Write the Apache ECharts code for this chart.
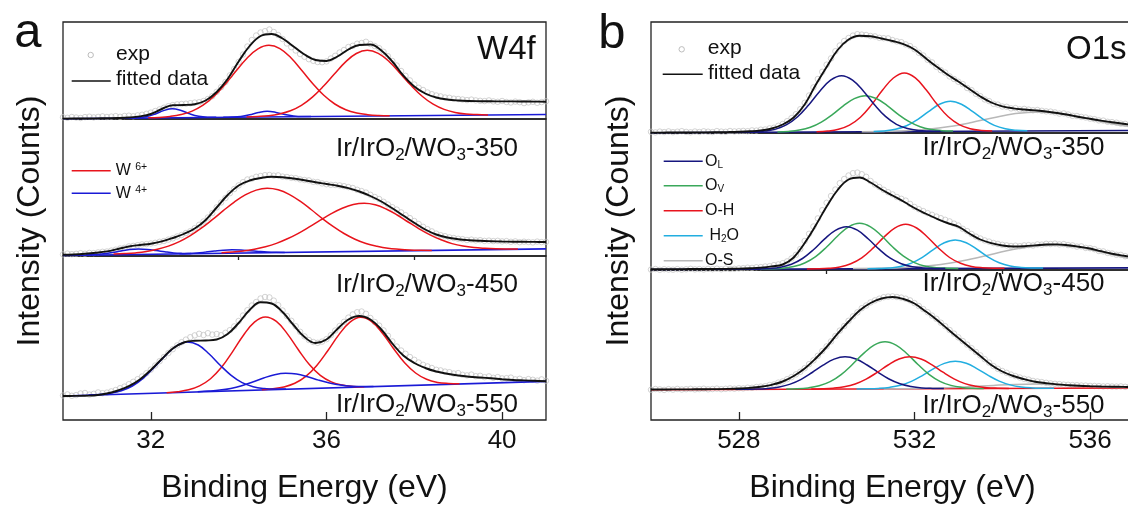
<!DOCTYPE html>
<html>
<head>
<meta charset="utf-8">
<script src="https://cdn.jsdelivr.net/npm/echarts@6/dist/echarts.min.js"></script>
<style>
  html, body { margin: 0; padding: 0; background: #ffffff; }
  #chart { width: 1128px; height: 507px; }
</style>
</head>
<body>
<div id="chart"></div>
<script>
// ---------------- W4f (panel a) ----------------
// experimental points: 30.0 .. 41.0 eV, 0.1 eV step
const wExpStart = 30.0, wExpStep = 0.1;
// fitted envelopes: 30.0 .. 41.0 eV, 0.25 eV step
const wFitStart = 30.0, wFitStep = 0.25;

const w350Exp = [
  1.8, 1.2, 2.0, 1.5, 1.0, 1.9, 2.3, 1.6, 2.1, 2.6, 2.0,
  2.4, 2.9, 2.2, 3.0, 3.3, 2.7, 3.6, 4.2, 5.2, 6.4,
  8.0, 9.6, 11.3, 12.8, 13.9, 14.6, 15.0, 15.3, 15.8, 16.4,
  16.8, 18.0, 20.0, 22.8, 27.2, 31.8, 37.0, 43.6, 50.0, 57.0,
  64.5, 72.5, 79.0, 83.5, 86.5, 87.8, 89.5, 87.0, 84.0, 80.0,
  75.5, 71.8, 68.5, 65.0, 62.2, 59.8, 58.2, 57.0, 56.8, 57.6,
  60.5, 63.2, 66.5, 69.0, 72.0, 73.2, 75.3, 76.0, 77.2, 75.0,
  73.0, 70.8, 67.2, 62.8, 58.0, 53.5, 48.0, 43.2, 38.6, 34.5,
  31.2, 29.0, 26.5, 24.8, 23.5, 22.6, 21.5, 21.2, 20.3, 20.0,
  19.5, 18.9, 19.4, 18.6, 18.2, 17.9, 18.6, 17.6, 17.2, 18.0,
  17.0, 16.5, 17.4, 16.8, 15.9, 16.6, 17.2, 16.2, 16.9, 17.8
];
const w350Fit = [
  0.4, 0.5, 0.5, 0.6, 0.8, 1.0, 1.5, 2.6, 5.0, 10.0, 13.8, 14.0, 14.8, 18.5, 27.0,
  40.0, 57.5, 73.0, 83.0, 85.0, 80.5, 72.5, 64.5, 59.0, 58.0, 62.5, 69.5, 74.0, 74.5,
  68.5, 57.5, 43.5, 32.5, 25.5, 21.5, 19.5, 18.5, 18.0, 17.8, 17.7, 17.6, 17.6, 17.5, 17.4, 17.3
];
const w350Bg = [[30, 0.3], [41, 4.5]];
const w350W6a = [[31.94,1.2],[32.19,1.6],[32.44,2.6],[32.69,4.5],[32.94,7.9],[33.19,13.8],[33.44,22.7],[33.69,34.5],[33.94,47.9],[34.19,60.8],[34.44,70.2],[34.69,73.7],[34.94,70.4],[35.19,61.2],[35.44,48.5],[35.69,35.3],[35.94,23.7],[36.19,15.0],[36.44,9.3],[36.69,6.0],[36.94,4.3],[37.19,3.5],[37.44,3.2]];
const w350W6b = [[34.18,2.0],[34.43,2.5],[34.68,3.3],[34.93,5.1],[35.18,8.3],[35.43,13.7],[35.68,21.9],[35.93,32.7],[36.18,45.0],[36.43,56.9],[36.68,65.5],[36.93,68.7],[37.18,65.6],[37.43,57.3],[37.68,45.6],[37.93,33.4],[38.18,22.8],[38.43,14.8],[38.68,9.6],[38.93,6.6],[39.18,5.0],[39.43,4.4],[39.68,4.0]];
const w350W4a = [[31.49,0.9],[31.69,1.2],[31.89,2.2],[32.09,4.8],[32.29,8.4],[32.49,10.3],[32.69,8.5],[32.89,5.1],[33.09,2.7],[33.29,1.8],[33.49,1.7]];
const w350W4b = [[33.65,1.7],[33.85,1.9],[34.05,2.6],[34.25,4.2],[34.45,6.5],[34.65,7.7],[34.85,6.6],[35.05,4.5],[35.25,3.1],[35.45,2.5],[35.65,2.45]];

const w450Exp = [
  1.6, 2.4, 1.8, 2.2, 2.8, 2.3, 3.1, 2.9, 3.6, 4.2, 4.5,
  5.4, 6.3, 7.5, 8.2, 9.6, 10.1, 10.8, 11.6, 11.9, 12.5,
  13.2, 14.2, 15.0, 16.4, 17.6, 19.5, 21.0, 23.0, 24.8, 27.8,
  31.2, 34.5, 38.5, 43.0, 48.6, 53.5, 58.0, 62.8, 67.0, 70.6,
  73.8, 76.5, 77.4, 79.2, 80.0, 80.8, 81.0, 80.3, 80.6, 79.4,
  79.0, 78.2, 77.8, 76.6, 76.0, 75.6, 74.2, 73.9, 72.6, 71.8,
  71.2, 71.0, 70.6, 69.8, 68.9, 68.0, 66.2, 64.9, 63.4, 61.2,
  59.0, 57.0, 54.2, 51.5, 48.8, 46.4, 43.6, 40.8, 37.9, 35.0,
  32.0, 29.2, 26.8, 24.6, 22.4, 20.8, 19.8, 18.6, 18.0, 17.2,
  16.8, 16.0, 16.4, 15.6, 15.8, 15.1, 15.4, 14.9, 15.2, 14.6,
  14.9, 14.2, 14.6, 13.8, 14.3, 14.0, 13.6, 14.4, 13.9, 14.1
];
const w450Fit = [
  1.2, 1.5, 2.2, 3.2, 4.6, 7.0, 9.5, 11.0, 12.3, 14.6, 18.0, 22.0, 27.5, 36.0, 48.5,
  61.0, 70.5, 75.5, 78.0, 79.2, 78.8, 77.5, 75.8, 73.8, 72.0, 70.2, 67.8, 64.5, 60.0,
  54.5, 47.7, 40.5, 33.2, 26.5, 21.5, 18.5, 16.8, 15.8, 15.2, 14.8, 14.5, 14.3, 14.2, 14.1, 14.0
];
const w450Bg = [[30, 0.5], [41, 7.1]];
const w450W6a = [[31.15,2.0],[31.40,2.4],[31.65,3.1],[31.90,4.4],[32.15,6.7],[32.40,9.9],[32.65,14.4],[32.90,20.4],[33.15,27.8],[33.40,36.3],[33.65,45.3],[33.90,53.9],[34.15,61.1],[34.40,65.9],[34.65,67.7],[34.90,66.2],[35.15,61.7],[35.40,54.8],[35.65,46.5],[35.90,37.7],[36.15,29.6],[36.40,22.5],[36.65,16.8],[36.90,12.5],[37.15,9.7],[37.40,7.7],[37.65,6.7],[37.90,6.0],[38.15,5.7],[38.40,5.6]];
const w450W6b = [[33.61,3.3],[33.86,4.0],[34.11,5.1],[34.36,6.7],[34.61,9.2],[34.86,12.6],[35.11,17.2],[35.36,22.7],[35.61,29.1],[35.86,35.8],[36.11,42.3],[36.36,47.7],[36.61,51.4],[36.86,52.7],[37.11,51.2],[37.36,47.0],[37.61,41.0],[37.86,34.0],[38.11,27.2],[38.36,21.2],[38.61,16.2],[38.86,12.4],[39.11,9.9],[39.36,8.4],[39.61,7.7],[39.86,7.3],[40.11,7.1],[40.36,7.0]];
const w450W4a = [[30.52,1.0],[30.72,1.4],[30.92,2.2],[31.12,3.4],[31.32,5.0],[31.52,6.4],[31.72,7.0],[31.92,6.6],[32.12,5.5],[32.32,4.2],[32.52,3.1],[32.72,2.6],[32.92,2.4]];
const w450W4b = [[32.65,2.2],[32.85,2.5],[33.05,3.0],[33.25,3.9],[33.45,4.9],[33.65,5.8],[33.85,6.2],[34.05,6.0],[34.25,5.3],[34.45,4.6],[34.65,4.0],[34.85,3.7],[35.05,3.6]];

const w550Exp = [
  24.5, 25.6, 24.2, 24.9, 26.5, 27.0, 25.4, 26.2, 27.6, 26.8, 27.4,
  28.6, 30.0, 31.8, 33.4, 35.8, 38.2, 40.8, 43.5, 46.8, 50.4,
  54.5, 58.8, 63.0, 67.0, 70.8, 74.6, 77.8, 80.4, 82.8, 84.6,
  86.2, 85.0, 86.8, 85.4, 86.0, 84.8, 87.2, 89.8, 93.6, 99.0,
  104.5, 109.8, 114.5, 118.0, 121.5, 123.0, 122.6, 119.4, 114.8, 109.5,
  104.0, 99.2, 93.8, 88.2, 83.6, 80.0, 78.0, 77.2, 78.4, 80.8,
  84.8, 89.5, 94.0, 98.2, 102.4, 105.6, 107.8, 108.5, 106.2, 102.0,
  98.0, 94.4, 89.6, 84.2, 78.6, 73.5, 69.5, 66.2, 63.0, 60.2,
  57.5, 55.2, 53.6, 52.0, 50.2, 49.6, 48.4, 47.8, 46.5, 46.9,
  45.2, 44.6, 45.4, 43.8, 44.2, 42.8, 43.6, 42.2, 42.9, 41.6,
  41.8, 42.4, 40.6, 41.2, 39.8, 40.9, 40.2, 39.4, 40.6, 39.2
];
const w550Fit = [
  24.0, 24.1, 24.3, 24.8, 26.5, 29.5, 33.8, 40.5, 50.0, 61.0, 71.5, 77.5, 79.2, 79.5, 80.5,
  86.0, 97.0, 110.0, 117.8, 116.5, 108.0, 95.0, 83.0, 77.0, 80.5, 91.0, 100.5, 104.0, 100.5,
  90.5, 76.5, 64.5, 57.0, 52.0, 48.5, 46.3, 44.5, 43.3, 42.5, 41.7, 40.8, 40.0, 39.6, 39.2, 38.8
];
const w550Bg = [[30, 24.0], [41, 38.6]];
const w550W6a = [[32.36,27.2],[32.61,28.3],[32.86,30.2],[33.11,34.1],[33.36,41.3],[33.61,52.7],[33.86,68.2],[34.11,84.8],[34.36,97.9],[34.61,103.1],[34.86,98.6],[35.11,86.1],[35.36,70.2],[35.61,55.4],[35.86,44.6],[36.11,38.1],[36.36,34.9],[36.61,33.6],[36.86,33.2]];
const w550W6b = [[34.53,30.3],[34.78,31.2],[35.03,33.0],[35.28,36.7],[35.53,43.6],[35.78,54.6],[36.03,69.3],[36.28,85.1],[36.53,97.7],[36.78,102.7],[37.03,98.4],[37.28,86.5],[37.53,71.3],[37.78,57.2],[38.03,47.0],[38.28,40.7],[38.53,37.6],[38.78,36.5],[39.03,36.2]];
const w550W4a = [[30.58,25.0],[30.83,25.6],[31.08,26.8],[31.33,29.3],[31.58,34.0],[31.83,41.9],[32.08,52.8],[32.33,64.4],[32.58,73.9],[32.83,78.0],[33.08,75.0],[33.33,66.0],[33.58,54.8],[33.83,44.6],[34.08,37.3],[34.33,33.3],[34.58,31.5],[34.83,30.9],[35.08,30.9]];
const w550W4b = [[33.07,28.2],[33.32,28.9],[33.57,29.9],[33.82,31.6],[34.07,34.3],[34.32,38.0],[34.57,42.0],[34.82,45.3],[35.07,46.7],[35.32,46.0],[35.57,43.3],[35.82,39.9],[36.07,37.0],[36.32,34.9],[36.57,33.8],[36.82,33.5],[37.07,33.5]];

// ---------------- O1s (panel b) ----------------
const oExpStart = 526.0, oExpStep = 0.1;
const oFitStart = 526.0, oFitStep = 0.25;

const o350Exp = [
  1.2, 0.6, 1.4, 0.9, 1.6, 0.8, 1.3, 1.8, 1.1, 0.7, 1.5,
  1.0, 1.7, 1.3, 0.9, 1.9, 1.4, 1.2, 2.0, 1.6, 1.8,
  2.1, 1.8, 2.6, 2.4, 3.3, 3.5, 4.6, 5.3, 7.2, 9.0,
  11.8, 14.9, 18.8, 23.8, 30.2, 37.5, 45.6, 54.0, 61.2, 68.3,
  74.6, 81.8, 87.5, 92.0, 95.0, 97.4, 98.8, 98.4, 98.0, 97.0,
  96.6, 95.2, 94.8, 94.6, 92.9, 91.6, 90.8, 88.6, 86.9, 83.8,
  80.2, 77.5, 73.2, 70.6, 66.2, 62.8, 60.4, 56.6, 54.0, 51.2,
  48.9, 45.0, 42.8, 39.2, 36.8, 33.6, 31.9, 29.2, 28.4, 26.5,
  26.2, 24.6, 24.9, 23.6, 24.1, 23.4, 22.7, 23.0, 22.2, 21.6,
  21.4, 20.6, 19.4, 19.6, 18.5, 17.2, 17.0, 16.1, 15.5, 14.4,
  13.8, 12.6, 12.4, 11.2, 10.9, 10.3, 9.4, 9.2, 8.3, 8.1
];
const o350Fit = [
  0.4, 0.4, 0.5, 0.5, 0.6, 0.6, 0.7, 0.9, 1.2, 1.7, 2.6, 4.5, 8.5, 15.5, 28.5,
  48.0, 66.0, 83.0, 93.5, 97.3, 96.8, 94.5, 92.0, 88.8, 83.5, 75.0, 66.5, 58.5, 51.5,
  44.0, 36.5, 30.5, 26.7, 24.6, 23.5, 22.6, 21.5, 20.0, 18.2, 16.0, 14.2, 12.4, 10.7, 9.2, 8.0
];
const o350Bg = [[526, 0.3], [537, 2.5]];
const o350OL = [[528.09,0.9],[528.34,1.1],[528.59,1.9],[528.84,3.9],[529.09,8.3],[529.34,16.2],[529.59,28.0],[529.84,41.6],[530.09,52.8],[530.34,57.3],[530.59,52.9],[530.84,41.8],[531.09,28.3],[531.34,16.6],[531.59,8.7],[531.84,4.5],[532.09,2.5],[532.34,1.9],[532.59,1.7]];
const o350OV = [[528.88,1.1],[529.13,1.6],[529.38,2.9],[529.63,5.7],[529.88,10.9],[530.13,18.4],[530.38,27.2],[530.63,34.4],[530.88,37.3],[531.13,34.5],[531.38,27.4],[531.63,18.7],[531.88,11.3],[532.13,6.2],[532.38,3.5],[532.63,2.3],[532.88,1.9]];
const o350OH = [[529.77,1.3],[530.02,1.9],[530.27,3.7],[530.52,7.9],[530.77,15.8],[531.02,28.1],[531.27,42.7],[531.52,55.0],[531.77,60.0],[532.02,55.1],[532.27,42.9],[532.52,28.4],[532.77,16.2],[533.02,8.4],[533.27,4.3],[533.52,2.6],[533.77,2.1]];
const o350H2O = [[531.07,1.5],[531.32,2.1],[531.57,3.7],[531.82,7.2],[532.07,13.4],[532.32,21.4],[532.57,28.7],[532.82,31.7],[533.07,28.8],[533.32,21.6],[533.57,13.7],[533.82,7.6],[534.07,4.2],[534.32,2.7],[534.57,2.2]];
const o350OS = [[530.8,1.3],[531.3,1.6],[531.8,2.3],[532.3,3.7],[532.8,6.4],[533.3,10.5],[533.8,15.3],[534.3,19.4],[534.8,21.1],[535.3,19.6],[535.8,15.5],[536.3,11.1],[536.8,7.2],[537.3,4.7]];

const o450Exp = [
  0.4, 1.0, 0.2, 0.8, 0.5, 0.3, 0.9, 0.3, 0.7, 1.2, 0.6,
  0.9, 0.5, 1.1, 0.8, 1.3, 0.7, 1.4, 1.0, 1.2, 1.6,
  1.8, 2.3, 2.1, 2.7, 2.9, 3.5, 3.8, 4.9, 5.6, 6.8,
  8.6, 11.5, 15.2, 21.0, 29.0, 36.2, 43.5, 51.6, 59.8, 67.2,
  74.0, 80.5, 86.8, 91.0, 94.5, 96.8, 97.4, 95.8, 93.2, 89.0,
  85.5, 83.0, 80.2, 77.8, 75.6, 73.0, 71.2, 69.4, 66.1, 63.0,
  60.8, 58.9, 56.9, 55.2, 53.4, 51.8, 50.2, 48.6, 46.4, 44.5,
  41.2, 38.9, 36.0, 33.4, 31.5, 29.6, 28.4, 27.0, 26.1, 25.2,
  24.6, 24.0, 24.3, 23.8, 24.6, 24.9, 24.5, 25.6, 25.4, 26.2,
  26.0, 26.4, 25.6, 25.9, 24.9, 24.6, 23.4, 23.6, 22.1, 21.8,
  20.8, 19.0, 18.6, 17.1, 16.5, 15.2, 15.1, 13.8, 13.6, 12.9
];
const o450Fit = [
  0.8, 0.8, 0.9, 0.9, 1.0, 1.0, 1.1, 1.2, 1.4, 1.8, 2.4, 3.6, 5.5, 12.5, 27.0,
  44.5, 63.5, 80.0, 90.5, 92.5, 87.5, 80.5, 74.5, 68.5, 62.0, 56.5, 51.5, 47.0, 43.3,
  36.5, 30.5, 26.8, 24.5, 23.5, 23.8, 24.6, 25.5, 25.6, 24.8, 23.3, 21.5, 18.8, 16.3, 14.4, 12.8
];
const o450Bg = [[526, 0.5], [537, 2.15]];
const o450OL = [[528.20,0.9],[528.45,1.0],[528.70,1.5],[528.95,2.8],[529.20,5.8],[529.45,11.5],[529.70,20.3],[529.95,30.9],[530.20,39.7],[530.45,43.3],[530.70,39.8],[530.95,31.0],[531.20,20.6],[531.45,11.8],[531.70,6.2],[531.95,3.2],[532.20,2.0],[532.45,1.6],[532.70,1.5]];
const o450OV = [[528.50,1.0],[528.75,1.2],[529.00,1.8],[529.25,3.4],[529.50,7.0],[529.75,13.4],[530.00,23.0],[530.25,34.0],[530.50,43.2],[530.75,46.7],[531.00,43.2],[531.25,34.2],[531.50,23.2],[531.75,13.8],[532.00,7.4],[532.25,3.8],[532.50,2.3],[532.75,1.8],[533.00,1.6]];
const o450OH = [[529.55,1.1],[529.80,1.2],[530.05,1.7],[530.30,3.1],[530.55,6.3],[530.80,12.2],[531.05,21.6],[531.30,32.6],[531.55,41.9],[531.80,45.7],[532.05,42.0],[532.30,32.8],[532.55,21.8],[532.80,12.5],[533.05,6.7],[533.30,3.6],[533.55,2.3],[533.80,1.8],[534.05,1.7]];
const o450H2O = [[530.93,1.3],[531.18,1.5],[531.43,2.0],[531.68,3.5],[531.93,6.9],[532.18,12.7],[532.43,20.4],[532.68,27.2],[532.93,30.0],[533.18,27.3],[533.43,20.5],[533.68,12.9],[533.93,7.2],[534.18,3.9],[534.43,2.5],[534.68,2.0],[534.93,1.9]];
const o450OS = [[530.6,1.4],[531.1,1.6],[531.6,2.1],[532.1,3.4],[532.6,5.6],[533.1,9.3],[533.6,14.0],[534.1,19.2],[534.6,23.0],[535.1,24.9],[535.6,23.4],[536.1,19.5],[536.6,14.5],[537.1,9.9]];

const o550Exp = [
  30.2, 31.0, 30.6, 30.1, 30.9, 30.4, 31.1, 30.5, 30.8, 31.2, 30.6,
  30.9, 31.3, 30.7, 31.0, 31.4, 30.8, 31.2, 31.6, 31.3, 31.8,
  31.6, 32.3, 32.2, 33.0, 33.4, 33.8, 35.0, 35.6, 37.4, 38.6,
  40.8, 42.9, 45.6, 48.2, 51.8, 55.9, 59.6, 64.2, 68.9, 73.6,
  78.6, 84.0, 89.4, 94.0, 99.2, 103.6, 107.6, 111.8, 114.5, 117.6,
  119.6, 121.3, 122.8, 123.4, 123.6, 123.0, 122.4, 121.3, 119.6, 116.9,
  114.0, 110.9, 107.8, 104.4, 101.2, 97.3, 93.8, 90.0, 86.4, 82.6,
  78.9, 75.4, 71.8, 68.0, 64.6, 60.8, 57.4, 53.9, 51.2, 49.0,
  47.2, 45.4, 43.9, 42.5, 41.2, 40.4, 39.1, 38.5, 37.9, 37.2,
  36.6, 36.2, 35.9, 35.4, 35.2, 34.9, 34.8, 34.5, 34.4, 34.1,
  34.0, 33.9, 33.6, 33.8, 33.5, 33.4, 33.6, 33.2, 33.4, 33.1
];
const o550Fit = [
  30.5, 30.5, 30.6, 30.6, 30.7, 30.8, 30.9, 31.1, 31.5, 32.1, 33.2, 35.2, 38.5, 44.0, 51.5,
  61.5, 73.0, 86.3, 98.5, 109.5, 117.0, 121.5, 123.0, 121.0, 116.5, 108.8, 100.5, 91.2, 82.0,
  73.0, 64.0, 55.0, 48.5, 44.0, 40.8, 38.2, 36.8, 35.6, 34.8, 34.2, 33.8, 33.5, 33.3, 33.1, 33.0
];
const o550Bg = [[526, 30.3], [537, 31.95]];
const o550OL = [[527.92,30.7],[528.17,30.8],[528.42,30.9],[528.67,31.6],[528.92,33.0],[529.17,35.9],[529.42,40.7],[529.67,47.5],[529.92,54.9],[530.17,60.9],[530.42,63.3],[530.67,61.0],[530.92,55.0],[531.17,47.7],[531.42,41.0],[531.67,36.2],[531.92,33.5],[532.17,32.1],[532.42,31.6],[532.67,31.4]];
const o550OV = [[529.08,31.0],[529.33,31.2],[529.58,32.1],[529.83,34.2],[530.08,38.3],[530.33,45.4],[530.58,55.3],[530.83,66.1],[531.08,74.9],[531.33,78.3],[531.58,74.9],[531.83,66.3],[532.08,55.5],[532.33,45.7],[532.58,38.7],[532.83,34.6],[533.08,32.6],[533.33,31.8],[533.58,31.6]];
const o550OH = [[529.65,31.0],[529.90,31.2],[530.15,31.8],[530.40,33.2],[530.65,36.0],[530.90,40.9],[531.15,47.6],[531.40,55.0],[531.65,61.0],[531.90,63.3],[532.15,61.0],[532.40,55.2],[532.65,47.8],[532.90,41.2],[533.15,36.4],[533.40,33.7],[533.65,32.3],[533.90,31.8],[534.15,31.6]];
const o550H2O = [[530.68,31.1],[530.93,31.2],[531.18,31.6],[531.43,32.6],[531.68,34.7],[531.93,38.6],[532.18,44.4],[532.43,51.1],[532.68,56.6],[532.93,58.7],[533.18,56.7],[533.43,51.2],[533.68,44.6],[533.93,38.9],[534.18,35.1],[534.43,33.0],[534.68,32.1],[534.93,31.8],[535.18,31.7]];
const o550OS = [[531.3,31.1],[531.8,31.3],[532.3,31.7],[532.8,32.4],[533.3,33.4],[533.8,34.6],[534.3,35.6],[534.8,36.0],[535.3,35.2],[535.8,34.0],[536.3,33.2],[536.8,32.6],[537.3,32.3]];

// axis ticks
const wMajorTicks = [32, 36, 40], wMinorTicks = [34, 38];
const oMajorTicks = [528, 532, 536], oMinorTicks = [530, 534];

// ---------------- layout & style ----------------
const FONT = "'Liberation Sans', Arial, Helvetica, sans-serif";
const C = {
  w6: '#e8141c', w4: '#1a1ad6',
  oL: '#16167f', oV: '#3aa85a', oH: '#e8141e', h2o: '#22aee0', oS: '#b8b8b8',
  fit: '#111111', exp: '#c2c2c2', axis: '#222222', text: '#111111'
};

const panels = [
  { left: 63, width: 483, min: 30, max: 41, major: wMajorTicks, minor: wMinorTicks,
    expStart: wExpStart, expStep: wExpStep, fitStart: wFitStart, fitStep: wFitStep,
    rows: [
      { top: 22, height: 97, exp: w350Exp, fit: w350Fit, bg: w350Bg, bgColor: C.w4,
        comps: [[w350W4a, C.w4], [w350W4b, C.w4], [w350W6a, C.w6], [w350W6b, C.w6]] },
      { top: 119, height: 137, exp: w450Exp, fit: w450Fit, bg: w450Bg, bgColor: C.w4,
        comps: [[w450W4a, C.w4], [w450W4b, C.w4], [w450W6a, C.w6], [w450W6b, C.w6]] },
      { top: 256, height: 164, exp: w550Exp, fit: w550Fit, bg: w550Bg, bgColor: C.w4,
        comps: [[w550W6a, C.w6], [w550W6b, C.w6], [w550W4a, C.w4], [w550W4b, C.w4]] }
    ] },
  { left: 651, width: 483, min: 526, max: 537, major: oMajorTicks, minor: oMinorTicks,
    expStart: oExpStart, expStep: oExpStep, fitStart: oFitStart, fitStep: oFitStep,
    rows: [
      { top: 22, height: 111, exp: o350Exp, fit: o350Fit, bg: o350Bg, bgColor: C.oL,
        comps: [[o350OS, C.oS], [o350H2O, C.h2o], [o350OH, C.oH], [o350OV, C.oV], [o350OL, C.oL]] },
      { top: 133, height: 137, exp: o450Exp, fit: o450Fit, bg: o450Bg, bgColor: C.oL,
        comps: [[o450OS, C.oS], [o450H2O, C.h2o], [o450OH, C.oH], [o450OV, C.oV], [o450OL, C.oL]] },
      { top: 270, height: 150, exp: o550Exp, fit: o550Fit, bg: o550Bg, bgColor: C.oH,
        comps: [[o550OS, C.oS], [o550H2O, C.h2o], [o550OL, C.oL], [o550OV, C.oV], [o550OH, C.oH]] }
    ] }
];

function onGrid(values, start, step) {
  return values.map((v, i) => [Math.round((start + i * step) * 1000) / 1000, v]);
}

const grid = [], xAxis = [], yAxis = [], series = [];

panels.forEach((p) => {
  p.rows.forEach((r, ri) => {
    const gi = grid.length;
    const isBottom = ri === p.rows.length - 1;
    grid.push({
      left: p.left, top: r.top, width: p.width, height: r.height,
      show: true, borderColor: C.axis, borderWidth: 1.3,
      backgroundColor: 'transparent', containLabel: false, outerBoundsMode: 'none'
    });
    const yi = yAxis.length;
    yAxis.push({ gridIndex: gi, type: 'value', min: 0, max: r.height, show: false });
    const xi = xAxis.length;
    xAxis.push({
      gridIndex: gi, type: 'value', min: p.min, max: p.max,
      axisLine: { show: false }, splitLine: { show: false },
      axisTick: isBottom
        ? { show: true, inside: true, length: 8, customValues: p.major, lineStyle: { color: C.axis, width: 1.3 } }
        : { show: false },
      axisLabel: isBottom
        ? { show: true, customValues: p.major, fontSize: 26, fontFamily: FONT, color: C.text, margin: 8 }
        : { show: false }
    });
    if (isBottom) {
      xAxis.push({
        gridIndex: gi, type: 'value', min: p.min, max: p.max,
        axisLine: { show: false }, splitLine: { show: false },
        axisTick: { show: true, inside: true, length: 4, customValues: p.minor, lineStyle: { color: C.axis, width: 1.3 } },
        axisLabel: { show: false }
      });
    }
    // measured points
    series.push({
      type: 'scatter', xAxisIndex: xi, yAxisIndex: yi, z: 1, silent: true,
      data: onGrid(r.exp, p.expStart, p.expStep),
      symbol: 'circle', symbolSize: 5.5,
      itemStyle: { color: 'rgba(255,255,255,0)', borderColor: C.exp, borderWidth: 0.9 }
    });
    // background
    series.push({
      type: 'line', xAxisIndex: xi, yAxisIndex: yi, z: 2, silent: true,
      data: r.bg, showSymbol: false, lineStyle: { color: r.bgColor, width: 1.6 }
    });
    // fitted components
    r.comps.forEach(([d, col]) => {
      series.push({
        type: 'line', xAxisIndex: xi, yAxisIndex: yi, z: 3, silent: true,
        data: d, smooth: 0.4, showSymbol: false, lineStyle: { color: col, width: 1.5 }
      });
    });
    // envelope
    series.push({
      type: 'line', xAxisIndex: xi, yAxisIndex: yi, z: 4, silent: true,
      data: onGrid(r.fit, p.fitStart, p.fitStep), smooth: 0.4, showSymbol: false,
      lineStyle: { color: C.fit, width: 1.9 }
    });
  });
});

// ---------------- annotations ----------------
function txt(x, y, text, size, opts) {
  return Object.assign({ type: 'text', x: x, y: y, z: 100, silent: true,
    style: Object.assign({ text: text, fontSize: size, fontFamily: FONT, fill: C.text,
      align: 'left', verticalAlign: 'middle' }, opts || {}) });
}
function seg(x1, x2, y, color) {
  return { type: 'line', z: 100, silent: true, shape: { x1: x1, y1: y, x2: x2, y2: y },
    style: { stroke: color, lineWidth: 1.6 } };
}
function sampleLabel(cx, cy, temp) {
  return txt(cx, cy, '{n|Ir/IrO}{s|2}{n|/WO}{s|3}{n|-' + temp + '}', 26, {
    align: 'center',
    rich: {
      n: { fontSize: 26, lineHeight: 30, fontFamily: FONT, fill: C.text },
      s: { fontSize: 17, lineHeight: 22, verticalAlign: 'bottom', fontFamily: FONT, fill: C.text }
    }
  });
}
const supRich = {
  w: { fontSize: 16, lineHeight: 18, fontFamily: FONT, fill: C.text },
  p: { fontSize: 10.5, lineHeight: 10, verticalAlign: 'top', fontFamily: FONT, fill: C.text }
};
const subRich = {
  o: { fontSize: 16, lineHeight: 18, fontFamily: FONT, fill: C.text },
  l: { fontSize: 10, lineHeight: 9, verticalAlign: 'bottom', fontFamily: FONT, fill: C.text }
};

const graphic = [
  // panel letters
  txt(28, 33, 'a', 49, { align: 'center' }),
  txt(612, 34, 'b', 49, { align: 'center' }),
  // core-level tags
  txt(477, 50, 'W4f', 33),
  txt(1066, 50, 'O1s', 33),
  // sample names
  sampleLabel(427, 149, '350'),
  sampleLabel(427, 284.5, '450'),
  sampleLabel(427, 404.5, '550'),
  sampleLabel(1013.5, 147.5, '350'),
  sampleLabel(1013.5, 283.5, '450'),
  sampleLabel(1013.5, 405.5, '550'),
  // legend, panel a
  { type: 'circle', z: 100, silent: true, shape: { cx: 90.7, cy: 55, r: 2.7 },
    style: { fill: 'rgba(255,255,255,0)', stroke: '#b5b5b5', lineWidth: 0.9 } },
  txt(116, 54, 'exp', 21),
  seg(71.7, 110.7, 81, C.fit),
  txt(116, 79.5, 'fitted data', 21),
  seg(71.7, 110.7, 170.7, C.w6),
  txt(115.7, 170.7, '{w|W }{p|6+}', 16, { rich: supRich }),
  seg(71.7, 110.7, 193.3, C.w4),
  txt(115.7, 193.3, '{w|W }{p|4+}', 16, { rich: supRich }),
  // legend, panel b
  { type: 'circle', z: 100, silent: true, shape: { cx: 681.7, cy: 49.3, r: 2.7 },
    style: { fill: 'rgba(255,255,255,0)', stroke: '#b5b5b5', lineWidth: 0.9 } },
  txt(707.7, 48.5, 'exp', 21),
  seg(662.7, 702.7, 74.3, C.fit),
  txt(708, 73, 'fitted data', 21),
  seg(663.7, 702.7, 161.3, C.oL),
  txt(705, 161.3, '{o|O}{l|L}', 16, { rich: subRich }),
  seg(663.7, 702.7, 185.7, C.oV),
  txt(705, 185.7, '{o|O}{l|V}', 16, { rich: subRich }),
  seg(663.7, 702.7, 210.7, C.oH),
  txt(705, 210.7, 'O-H', 16),
  seg(663.7, 702.7, 235.7, C.h2o),
  txt(705, 235.7, '{o| H}{l|2}{o|O}', 16, { rich: subRich }),
  seg(663.7, 702.7, 260.7, C.oS),
  txt(705, 260.7, 'O-S', 16),
  // axis titles
  Object.assign(txt(30, 221, 'Intensity (Counts)', 32, { align: 'center' }), { rotation: Math.PI / 2 }),
  Object.assign(txt(619, 221, 'Intensity (Counts)', 32, { align: 'center' }), { rotation: Math.PI / 2 }),
  txt(304.5, 488.5, 'Binding Energy (eV)', 32, { align: 'center' }),
  txt(892.5, 488.5, 'Binding Energy (eV)', 32, { align: 'center' })
];

const chart = echarts.init(document.getElementById('chart'), null, { renderer: 'canvas' });
chart.setOption({
  animation: false,
  backgroundColor: '#ffffff',
  textStyle: { fontFamily: FONT },
  grid: grid,
  xAxis: xAxis,
  yAxis: yAxis,
  series: series,
  graphic: graphic
});
</script>
</body>
</html>
